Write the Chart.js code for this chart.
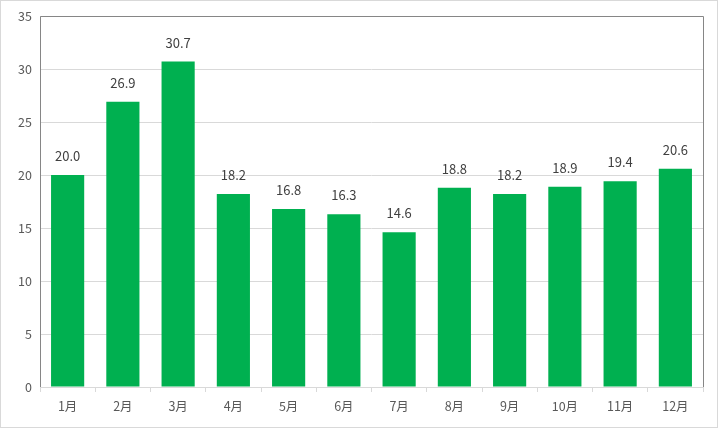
<!DOCTYPE html>
<html><head><meta charset="utf-8">
<script src="https://cdn.jsdelivr.net/npm/chart.js@4/dist/chart.umd.min.js"></script>
<style>html,body{margin:0;padding:0;background:#fff}#wrap{width:718px;height:428px;position:relative}</style>
</head><body><div id="wrap"><canvas id="c" width="718" height="428"></canvas></div>
<script>
const categories = ["1月","2月","3月","4月","5月","6月","7月","8月","9月","10月","11月","12月"];
const values = [20.0, 26.9, 30.7, 18.2, 16.8, 16.3, 14.6, 18.8, 18.2, 18.9, 19.4, 20.6];
const yTicks = [0, 5, 10, 15, 20, 25, 30, 35];

const FONT = "'Noto Sans CJK JP', 'Noto Sans', sans-serif";

const framePlugin = {
  id: 'frame',
  afterDraw(chart) {
    const ctx = chart.ctx, a = chart.chartArea;
    ctx.save();
    ctx.strokeStyle = '#d9d9d9'; ctx.lineWidth = 1;
    ctx.strokeRect(0.5, 0.5, chart.width - 1, chart.height - 1);
    ctx.strokeStyle = '#868686';
    ctx.beginPath();
    ctx.moveTo(Math.round(a.left) + 0.5, Math.round(a.bottom));
    ctx.lineTo(Math.round(a.left) + 0.5, Math.round(a.top) + 0.5);
    ctx.lineTo(Math.round(a.right) + 0.5, Math.round(a.top) + 0.5);
    ctx.lineTo(Math.round(a.right) + 0.5, Math.round(a.bottom));
    ctx.stroke();
    // data labels
    const meta = chart.getDatasetMeta(0);
    ctx.fillStyle = '#404040';
    ctx.font = '13px ' + FONT;
    ctx.textAlign = 'center'; ctx.textBaseline = 'middle';
    meta.data.forEach((bar, i) => {
      ctx.fillText(values[i].toFixed(1), bar.x, bar.y - 19);
    });
    ctx.restore();
  }
};

new Chart(document.getElementById('c'), {
  type: 'bar',
  data: { labels: categories, datasets: [{ data: values, backgroundColor: '#00b050', barPercentage: 0.6, categoryPercentage: 1.0 }] },
  options: {
    responsive: false, animation: false,
    layout: { padding: { left: 0, top: 16, right: 15, bottom: 0 } },
    plugins: { legend: { display: false }, tooltip: { enabled: false } },
    scales: {
      x: {
        offset: true,
        grid: { display: true, drawOnChartArea: false, drawTicks: true, tickLength: 5, color: '#d9d9d9', offset: true },
        border: { color: '#d9d9d9' },
        ticks: { color: '#595959', font: { size: 12.5, family: FONT }, padding: 7, maxRotation: 0 },
        afterFit(s) { s.height = 41; }
      },
      y: {
        min: 0, max: 35,
        afterBuildTicks(s) { s.ticks = yTicks.map(v => ({ value: v })); },
        grid: { color: '#d9d9d9', drawTicks: false },
        border: { display: false },
        ticks: { color: '#595959', font: { size: 12.5, family: FONT }, padding: 8 },
        afterFit(s) { s.width = 40; }
      }
    }
  },
  plugins: [framePlugin]
});
</script></body></html>
